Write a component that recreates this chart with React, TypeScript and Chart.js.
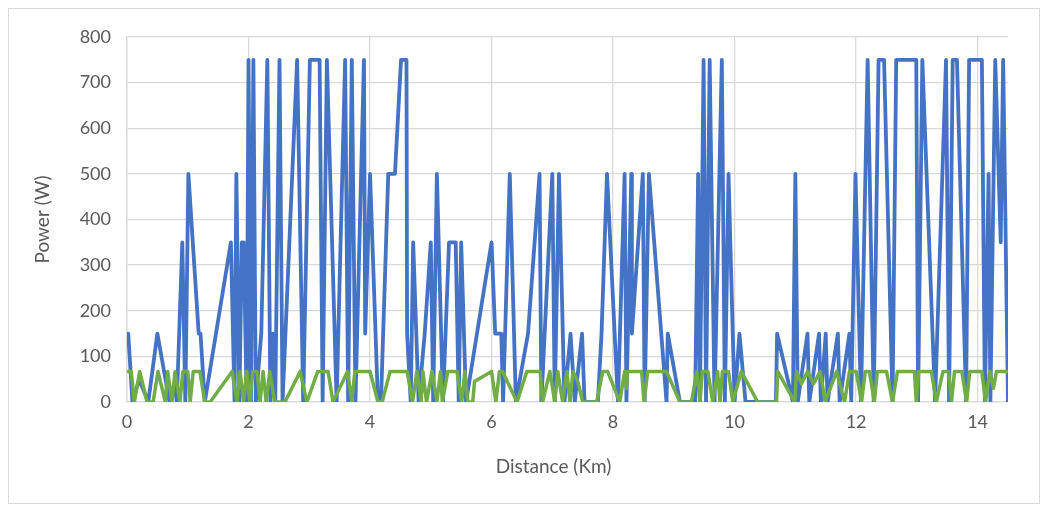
import React, { useEffect, useRef } from "react";
import { Chart, registerables } from "chart.js";

Chart.register(...registerables);

const blueDistance: number[] = [
  0.02, 0.09, 0.2, 0.35, 0.5, 0.7, 0.78, 0.82, 0.91, 0.96,
  1.01, 1.18, 1.21, 1.28, 1.71, 1.77, 1.8, 1.85, 1.89, 1.92,
  1.97, 2.0, 2.04, 2.08, 2.12, 2.21, 2.31, 2.36, 2.4, 2.44,
  2.51, 2.56, 2.8, 2.9, 3.01, 3.17, 3.22, 3.29, 3.45, 3.59,
  3.64, 3.7, 3.76, 3.9, 3.92, 4.0, 4.13, 4.18, 4.3, 4.41,
  4.51, 4.6, 4.61, 4.67, 4.71, 4.8, 4.9, 5.0, 5.04, 5.1,
  5.2, 5.3, 5.41, 5.46, 5.5, 5.58, 6.0, 6.06, 6.16, 6.19,
  6.3, 6.4, 6.6, 6.79, 6.82, 7.0, 7.04, 7.11, 7.2, 7.3,
  7.37, 7.49, 7.53, 7.75, 7.81, 7.9, 8.08, 8.19, 8.22, 8.3,
  8.31, 8.49, 8.52, 8.59, 8.88, 8.9, 9.1, 9.35, 9.4, 9.43,
  9.49, 9.53, 9.59, 9.67, 9.79, 9.84, 9.9, 10.0, 10.08, 10.18,
  10.68, 10.7, 10.96, 11.0, 11.04, 11.2, 11.23, 11.39, 11.42, 11.5,
  11.53, 11.7, 11.73, 11.89, 11.92, 11.99, 12.08, 12.19, 12.29, 12.37,
  12.46, 12.6, 12.66, 12.99, 13.02, 13.09, 13.3, 13.48, 13.53, 13.59,
  13.66, 13.81, 13.86, 14.07, 14.12, 14.18, 14.21, 14.29, 14.38, 14.42,
  14.5,
];
const bluePower: number[] = [
  150, 0, 50, 0, 150, 0, 40, 0, 350, 0,
  500, 150, 150, 0, 350, 0, 500, 0, 350, 350,
  0, 750, 0, 750, 0, 150, 750, 0, 150, 0,
  750, 0, 750, 0, 750, 750, 0, 750, 0, 750,
  0, 750, 0, 750, 150, 500, 0, 0, 500, 500,
  750, 750, 150, 0, 350, 0, 150, 350, 0, 500,
  0, 350, 350, 0, 350, 0, 350, 150, 150, 0,
  500, 0, 150, 500, 0, 500, 0, 500, 0, 150,
  0, 150, 0, 0, 150, 500, 0, 500, 0, 500,
  150, 500, 0, 500, 0, 150, 0, 0, 500, 0,
  750, 0, 750, 0, 750, 0, 500, 0, 150, 0,
  0, 150, 0, 500, 0, 150, 0, 150, 0, 150,
  0, 150, 0, 150, 0, 500, 0, 750, 0, 750,
  750, 0, 750, 750, 0, 750, 0, 750, 0, 750,
  750, 0, 750, 750, 0, 500, 0, 750, 350, 750,
  0,
];

const greenDistance: number[] = [
  0.02, 0.07, 0.12, 0.21, 0.33, 0.43, 0.51, 0.63, 0.67, 0.74,
  0.79, 0.87, 0.92, 1.0, 1.04, 1.09, 1.2, 1.28, 1.37, 1.73,
  1.81, 1.86, 1.92, 1.97, 2.02, 2.07, 2.14, 2.19, 2.24, 2.29,
  2.35, 2.43, 2.6, 2.85, 2.96, 3.14, 3.31, 3.39, 3.63, 3.7,
  3.75, 3.91, 4.0, 4.13, 4.2, 4.33, 4.61, 4.7, 4.77, 4.84,
  4.87, 4.93, 5.02, 5.1, 5.16, 5.19, 5.28, 5.43, 5.51, 5.56,
  5.61, 5.69, 5.72, 6.0, 6.07, 6.13, 6.18, 6.42, 6.58, 6.8,
  6.84, 6.96, 7.04, 7.09, 7.17, 7.24, 7.29, 7.34, 7.42, 7.5,
  7.73, 7.83, 7.91, 8.11, 8.19, 8.22, 8.24, 8.47, 8.51, 8.57,
  8.88, 9.1, 9.29, 9.38, 9.43, 9.47, 9.56, 9.64, 9.72, 9.76,
  9.8, 9.9, 9.97, 10.11, 10.38, 10.69, 10.71, 10.99, 11.02, 11.1,
  11.2, 11.3, 11.41, 11.49, 11.68, 11.81, 11.89, 12.0, 12.09, 12.15,
  12.22, 12.3, 12.35, 12.5, 12.6, 12.68, 12.96, 12.99, 13.03, 13.24,
  13.32, 13.43, 13.52, 13.57, 13.62, 13.74, 13.82, 13.87, 14.07, 14.13,
  14.2, 14.26, 14.31, 14.5,
];
const greenPower: number[] = [
  67, 67, 0, 67, 0, 0, 67, 0, 67, 0,
  67, 0, 67, 67, 0, 67, 67, 0, 0, 67,
  0, 67, 0, 67, 0, 67, 67, 0, 67, 0,
  67, 0, 0, 67, 0, 67, 67, 0, 67, 0,
  67, 67, 67, 0, 0, 67, 67, 0, 67, 0,
  67, 0, 67, 0, 67, 0, 67, 67, 0, 67,
  0, 0, 45, 67, 0, 67, 67, 0, 67, 67,
  0, 67, 0, 67, 0, 67, 0, 67, 45, 0,
  0, 67, 67, 0, 67, 30, 67, 67, 0, 67,
  67, 0, 0, 67, 0, 67, 67, 0, 67, 0,
  67, 67, 0, 67, 0, 0, 67, 0, 67, 40,
  67, 40, 67, 0, 67, 0, 67, 67, 0, 67,
  67, 0, 67, 67, 0, 67, 67, 0, 67, 67,
  0, 67, 67, 0, 67, 67, 0, 67, 67, 0,
  67, 30, 67, 67,
];

const xTitle = "Distance (Km)";
const yTitle = "Power (W)";
const FONT = "Lato, 'Liberation Sans', sans-serif";
const TEXT = "#595959";
const GRID = "#d9d9d9";

const xTitlePlugin = {
  id: "xTitleOffset",
  afterDraw(chart: any) {
    const { ctx, chartArea, scales } = chart;
    const x = (chartArea.left + chartArea.right) / 2 - 14;
    const y = scales.x.bottom - 15;
    ctx.save();
    ctx.fillStyle = TEXT;
    ctx.font = `19px ${FONT}`;
    ctx.textAlign = "center";
    ctx.textBaseline = "middle";
    ctx.fillText(xTitle, x, y);
    ctx.restore();
  },
};

export default function App() {
  const ref = useRef<HTMLCanvasElement | null>(null);
  useEffect(() => {
    if (!ref.current) return;
    const chart = new Chart(ref.current, {
      type: "line",
      data: {
        datasets: [
          {
            label: "Green",
            data: greenDistance.map((x, i) => ({ x, y: greenPower[i] })),
            borderColor: "#70AD47",
            borderWidth: 3.5,
            pointRadius: 0,
            tension: 0,
            borderJoinStyle: "round",
            borderCapStyle: "round",
            order: 0,
          },
          {
            label: "Power",
            data: blueDistance.map((x, i) => ({ x, y: bluePower[i] })),
            borderColor: "#4472C4",
            borderWidth: 3.8,
            pointRadius: 0,
            tension: 0,
            borderJoinStyle: "round",
            borderCapStyle: "round",
            order: 1,
          },
        ],
      },
      plugins: [xTitlePlugin],
      options: {
        animation: false,
        responsive: false,
        maintainAspectRatio: false,
        layout: { padding: { left: 18, top: 28, right: 31, bottom: 21 } },
        plugins: { legend: { display: false }, tooltip: { enabled: false } },
        scales: {
          x: {
            type: "linear",
            min: 0,
            max: 14.5,
            afterFit: (s: any) => {
              s.height = 80;
            },
            ticks: {
              stepSize: 2,
              includeBounds: false,
              padding: 9,
              color: TEXT,
              font: { family: FONT, size: 18 },
              maxRotation: 0,
            },
            grid: { color: GRID, lineWidth: 1.3, drawTicks: false },
            border: { color: GRID, width: 1.3 },
            title: { display: false },
          },
          y: {
            min: 0,
            max: 800,
            afterFit: (s: any) => {
              s.width = 100;
            },
            ticks: {
              stepSize: 100,
              padding: 16,
              color: TEXT,
              font: { family: FONT, size: 18 },
            },
            grid: { color: GRID, lineWidth: 1.3, drawTicks: false },
            border: { color: GRID, width: 1.3 },
            title: {
              display: true,
              text: yTitle,
              color: TEXT,
              font: { family: FONT, size: 19 },
            },
          },
        },
      },
    });
    return () => chart.destroy();
  }, []);
  return (
    <div
      style={{
        width: 1032,
        height: 496,
        border: "1px solid #d9d9d9",
        boxSizing: "border-box",
        background: "#fff",
      }}
    >
      <canvas ref={ref} width={1030} height={494} style={{ display: "block" }} />
    </div>
  );
}
